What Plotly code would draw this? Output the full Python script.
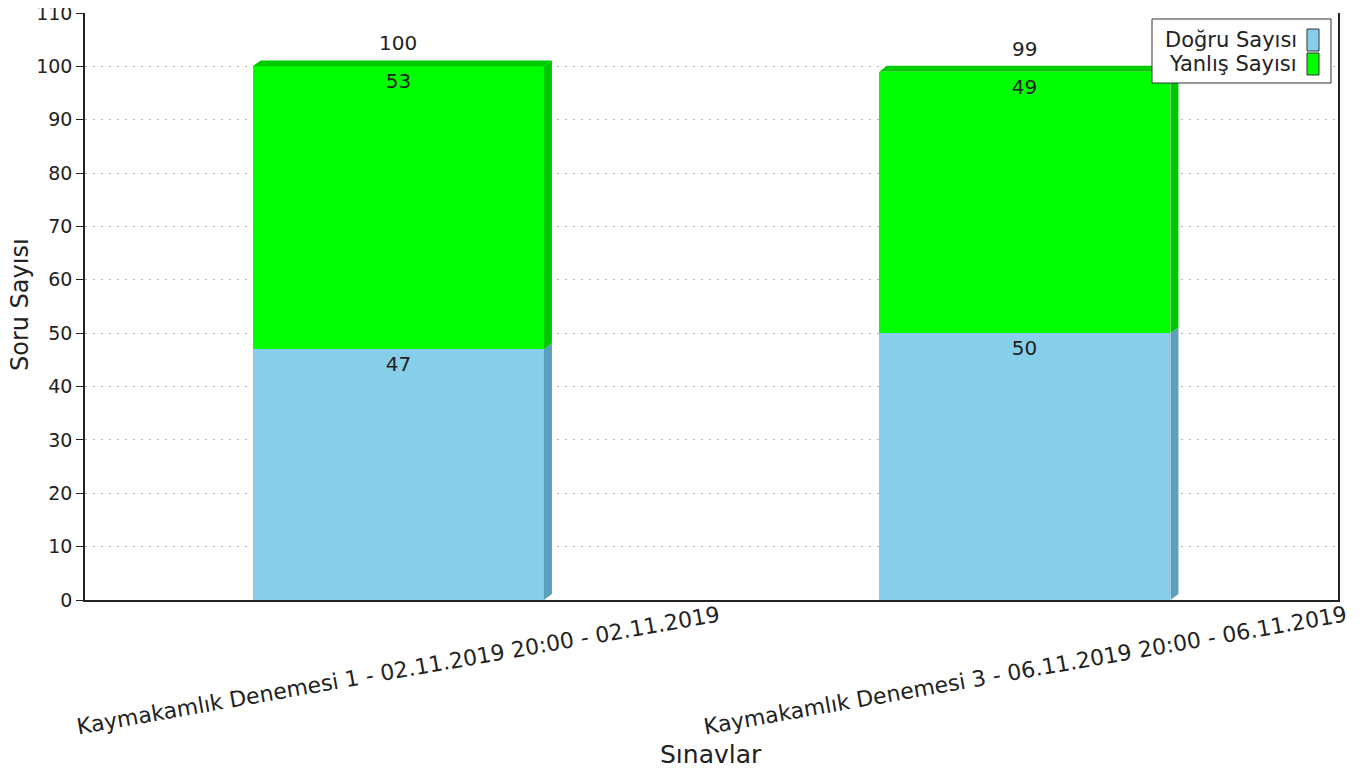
import plotly.graph_objects as go

# ---- data ----
categories = [
    "Kaymakamlık Denemesi 1 - 02.11.2019 20:00 - 02.11.2019",
    "Kaymakamlık Denemesi 3 - 06.11.2019 20:00 - 06.11.2019",
]
series_names = ["Doğru Sayısı", "Yanlış Sayısı"]
dogru = [47, 50]
yanlis = [53, 49]
x_title = "Sınavlar"
y_title = "Soru Sayısı"

# ---- style ----
FONT = "DejaVu Sans"
TXT = "#222222"
colors = ["#87CEEB", "#00FF00"]
side_colors = ["#5B9FBC", "#00C800"]
top_color = "#00CC00"
BAR_W = 0.465
DX = 0.0128   # 3D depth (x, category units)
DY = 1.12     # 3D depth (y, data units)

# page has an 8px body margin; work in page pixels, then offset
OFF = 8
W, H = 1368 - OFF, 773 - OFF
PL, PR, PT, PB = 85, 1338, 13, 600   # plot area in page pixels
def px(x):
    return (x - PL) / (PR - PL)
def py(y):
    return (PB - y) / (PB - PT)

xs = list(range(len(categories)))
totals = [a + b for a, b in zip(dogru, yanlis)]

fig = go.Figure()
for vals, name, c in zip([dogru, yanlis], series_names, colors):
    fig.add_trace(go.Bar(
        x=xs, y=vals, name=name, width=BAR_W,
        marker=dict(color=c, line=dict(width=0)),
        text=[str(v) for v in vals], textposition="inside", insidetextanchor="end",
        textfont=dict(family=FONT, size=20, color=TXT), constraintext="none",
        showlegend=False,
    ))

shapes = []
annotations = []
for i, (d, w, t) in enumerate(zip(dogru, yanlis, totals)):
    xl, xr = xs[i] - BAR_W / 2, xs[i] + BAR_W / 2
    segs = [(0, d, side_colors[0]), (d, t, side_colors[1])]
    for y0, y1, c in segs:
        shapes.append(dict(
            type="path", xref="x", yref="y", layer="above",
            path=f"M {xr},{y0} L {xr+DX},{y0+DY} L {xr+DX},{y1+DY} L {xr},{y1} Z",
            fillcolor=c, line=dict(width=0)))
    shapes.append(dict(
        type="path", xref="x", yref="y", layer="above",
        path=f"M {xl},{t} L {xl+DX},{t+DY} L {xr+DX},{t+DY} L {xr},{t} Z",
        fillcolor=top_color, line=dict(width=0)))
    annotations.append(dict(
        x=xs[i], y=t, xref="x", yref="y", text=str(t), showarrow=False,
        yanchor="bottom", yshift=9, font=dict(family=FONT, size=20, color=TXT)))
    annotations.append(dict(
        x=xs[i], y=py(670), xref="x", yref="paper", text=categories[i],
        showarrow=False, textangle=-10, xanchor="center", yanchor="middle",
        font=dict(family=FONT, size=22, color=TXT)))

# axis titles
annotations.append(dict(x=px(711), y=py(755), xref="paper", yref="paper", text=x_title,
                        showarrow=False, xanchor="center", yanchor="middle",
                        font=dict(family=FONT, size=25, color=TXT)))
annotations.append(dict(x=px(20), y=py(305), xref="paper", yref="paper", text=y_title,
                        showarrow=False, textangle=-90, xanchor="center", yanchor="middle",
                        font=dict(family=FONT, size=24, color=TXT)))

# custom legend (swatch on the right)
shapes.append(dict(type="rect", xref="paper", yref="paper",
                   x0=px(1152), x1=px(1331), y0=py(83), y1=py(19),
                   fillcolor="white", line=dict(color="#333", width=1), layer="above"))
legend_rows = [(29, 51), (53, 75)]
for (y0, y1), name, c in zip(legend_rows, series_names, colors):
    shapes.append(dict(type="rect", xref="paper", yref="paper",
                       x0=px(1307), x1=px(1319), y0=py(y1), y1=py(y0),
                       fillcolor=c, line=dict(color="#333", width=1), layer="above"))
    annotations.append(dict(x=px(1299), y=py((y0 + y1) / 2), xref="paper", yref="paper",
                            text=name, showarrow=False, xanchor="right", yanchor="middle",
                            font=dict(family=FONT, size=21, color=TXT)))

fig.update_layout(
    width=W, height=H,
    margin=dict(l=PL - OFF, r=W - (PR - OFF), t=PT - OFF, b=H - (PB - OFF), autoexpand=False),
    paper_bgcolor="white", plot_bgcolor="white",
    barmode="stack", bargap=0,
    font=dict(family=FONT, size=19, color=TXT),
    shapes=shapes, annotations=annotations,
    showlegend=False,
    xaxis=dict(
        range=[-0.5, len(categories) - 0.5], tickvals=xs, showticklabels=False,
        showgrid=False, zeroline=False, showline=True, linecolor=TXT, linewidth=1.5,
        ticks="", fixedrange=True, automargin=False,
    ),
    yaxis=dict(
        range=[0, 110], dtick=10, tick0=0, automargin=False, ticklabeloverflow="allow",
        showgrid=True, gridcolor="#b5b5b5", griddash="2px,6px", gridwidth=1,
        zeroline=False, showline=True, linecolor=TXT, linewidth=1.5, mirror=True,
        ticks="outside", ticklen=7, tickcolor=TXT,
        tickfont=dict(family=FONT, size=19, color=TXT),
    ),
)

fig.write_html("out.html")
